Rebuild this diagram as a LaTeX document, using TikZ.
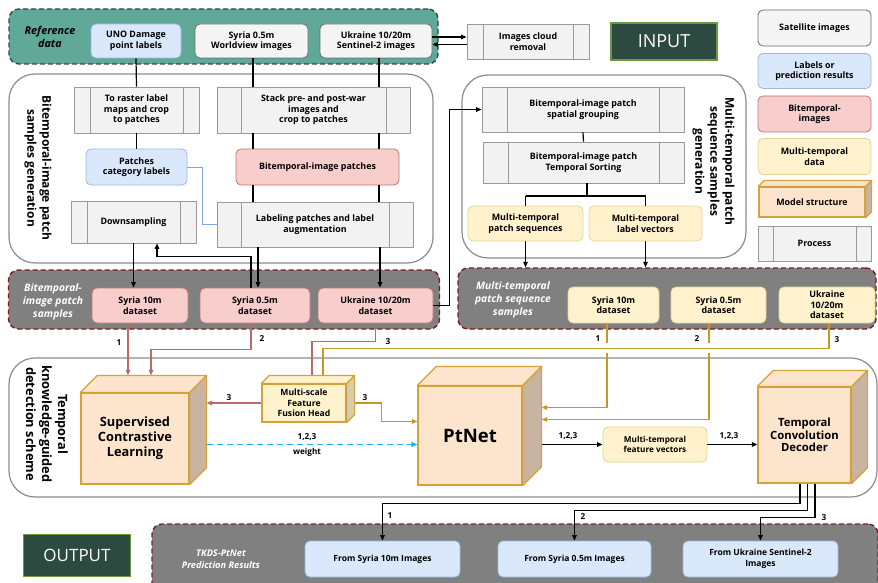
\documentclass[tikz,border=0pt]{standalone}
\usepackage{fontspec}
\setmainfont{Open Sans}
\usetikzlibrary{arrows.meta}

% palette
\definecolor{refteal}{HTML}{60A898}
\definecolor{refedge}{HTML}{2E4A42}
\definecolor{satfill}{HTML}{F5F5F5}
\definecolor{satdraw}{HTML}{6E6E6E}
\definecolor{procfill}{HTML}{F2F2F2}
\definecolor{procdraw}{HTML}{9A9A9A}
\definecolor{lblfill}{HTML}{DAE8FC}
\definecolor{lbldraw}{HTML}{9DB9E0}
\definecolor{bitfill}{HTML}{F8CECC}
\definecolor{bitdraw}{HTML}{C27673}
\definecolor{mtfill}{HTML}{FFF2CC}
\definecolor{mtdraw}{HTML}{E6D398}
\definecolor{cubefill}{HTML}{FDE4CD}
\definecolor{cubeside}{HTML}{C9B4A2}
\definecolor{cubedraw}{HTML}{D4A23A}
\definecolor{msfside}{HTML}{D6CCAE}
\definecolor{grpdraw}{HTML}{8C8C8C}
\definecolor{bandfill}{HTML}{808080}
\definecolor{banddraw}{HTML}{7B1C1C}
\definecolor{darkbox}{HTML}{2D4A40}
\definecolor{darkedge}{HTML}{6B9A3C}
\definecolor{pinkln}{HTML}{B86B6B}
\definecolor{goldln}{HTML}{C49A22}
\definecolor{bluethin}{HTML}{7EA6E0}
\definecolor{dashblue}{HTML}{1CB0EE}

\newcommand{\boxfont}{\bfseries\fontsize{8.9}{10.6}\selectfont}
\newcommand{\numfont}{\bfseries\fontsize{8.2}{9.5}\selectfont}

% front node #1, depth #2, side colour #3, top colour #4
\newcommand{\cubefaces}[4]{%
  \filldraw[cubeedge, fill=#3] (#1.north east) -- ++(#2,-#2) -- ([shift={(#2,-#2)}]#1.south east) -- (#1.south east) -- cycle;
  \filldraw[cubeedge, fill=#4] (#1.north west) -- ++(#2,-#2) -- ([shift={(#2,-#2)}]#1.north east) -- (#1.north east) -- cycle;}

\tikzset{
  wh/.style 2 args={minimum width=#1pt, minimum height=#2pt},
  basebox/.style={inner sep=0pt, align=center, font=\boxfont, line width=0.8pt, rounded corners=5pt},
  satbox/.style={basebox, fill=satfill, draw=satdraw},
  lblbox/.style={basebox, fill=lblfill, draw=lbldraw},
  bitbox/.style={basebox, fill=bitfill, draw=bitdraw},
  mtbox/.style={basebox, fill=mtfill, draw=mtdraw},
  procbox/.style={inner sep=0pt, align=center, font=\boxfont, line width=0.8pt,
    fill=procfill, draw=procdraw,
    path picture={\draw[draw=procdraw, line width=0.8pt]
      ([xshift=#1]path picture bounding box.north west) -- ([xshift=#1]path picture bounding box.south west)
      ([xshift=-#1]path picture bounding box.north east) -- ([xshift=-#1]path picture bounding box.south east);}},
  cubefront/.style={inner sep=0pt, align=center, fill=cubefill, draw=cubedraw, line width=1.2pt},
  cubeedge/.style={draw=cubedraw, line width=1.2pt, line join=round},
  grp/.style={draw=grpdraw, line width=1.2pt, rounded corners=26pt},
  grplabel/.style={inner sep=0pt, align=center, font=\bfseries\fontsize{12}{15}\selectfont, rotate=-90},
  band/.style={fill=bandfill, draw=banddraw, line width=1.4pt, dash pattern=on 5pt off 3pt, rounded corners=10pt},
  bandtxt/.style={inner sep=0pt, align=center, text=white, font=\bfseries\itshape\fontsize{10.3}{12.8}\selectfont},
  darkbox/.style={inner sep=0pt, fill=darkbox, draw=darkedge, line width=1.2pt, text=white, font=\fontsize{18}{20}\selectfont},
  num/.style={inner sep=0pt, font=\numfont},
  ln/.style={line width=1.2pt, black},
  arr/.style={ln, -{Triangle[length=5.5pt,width=4.5pt]}},
  blueln/.style={line width=0.9pt, bluethin},
  pinkline/.style={line width=1.2pt, pinkln},
  pinkarr/.style={pinkline, -{Triangle[length=5.5pt,width=4.5pt]}},
  goldline/.style={line width=1.2pt, goldln},
  goldarr/.style={goldline, -{Triangle[length=5.5pt,width=4.5pt]}},
  bluedash/.style={line width=1.3pt, dashblue, dash pattern=on 6pt off 4pt, -{Triangle[length=6pt,width=5pt]}},
}

\begin{document}
\begin{tikzpicture}[x=1pt, y=-1pt]
\useasboundingbox (0,0) rectangle (878,583);
\fill[white] (0,0) rectangle (878,583);

% ---------- process groups ----------
\node[grp, wh={424}{189}] (grpA) at (221,168.5) {};
\node[grp, wh={284}{183}] (grpC) at (604,166.5) {};
\node[grp, wh={868}{139}] (grpE) at (443,427.5) {};
\node[grplabel] (grpAlabel) at (38,168) {Bitemporal-image patch\\samples generation};
\node[grplabel] (grpClabel) at (713.5,161.5) {Multi-temporal patch\\sequence samples\\generation};
\node[grplabel, font=\bfseries\fontsize{12.8}{16}\selectfont] (grpElabel) at (47,424) {Temporal\\knowledge-guided\\detection scheme};

% ---------- data bands ----------
\node[band, fill=refteal, draw=refedge, wh={429}{55}] (bandRef) at (223.5,36.5) {};
\node[band, wh={431}{59}] (bandB) at (224,299.5) {};
\node[band, wh={418}{61}] (bandD) at (667,298.5) {};
\node[band, wh={726}{70}] (bandF) at (515,559) {};

\node[bandtxt, text=black, font=\bfseries\itshape\fontsize{10.8}{13}\selectfont] (refTitle) at (50,37) {Reference\\data};
\node[bandtxt] (bTitle) at (53,302) {Bitemporal-\\image patch\\samples};
\node[bandtxt] (dTitle) at (513,300) {Multi-temporal\\patch sequence\\samples};
\node[bandtxt, font=\bfseries\itshape\fontsize{9.2}{12.5}\selectfont] (fTitle) at (221,559) {TKDS-PtNet\\Prediction Results};

% ---------- input ----------
\node[lblbox, wh={90}{34}] (uno) at (136,41) {UNO Damage\\point labels};
\node[satbox, wh={113}{34}] (syrwv) at (251.5,41) {Syria 0.5m\\Worldview images};
\node[satbox, wh={112}{34}] (ukrs2) at (376,41) {Ukraine 10/20m\\Sentinel-2 images};
\node[procbox=16pt, wh={122}{35}] (cloud) at (528,41.5) {Images cloud\\removal};
\node[darkbox, wh={106}{37}] (input) at (664,41.5) {INPUT};

% ---------- bitemporal patch generation ----------
\node[procbox=16pt, wh={125}{46}] (raster) at (136.5,110) {To raster label\\maps and crop\\to patches};
\node[procbox=24pt, wh={193}{46}] (stack) at (313.5,110) {Stack pre- and post-war\\images and\\crop to patches};
\node[lblbox, wh={101}{36}] (pcl) at (136.5,167) {Patches\\category labels};
\node[bitbox, wh={163}{36}] (bip) at (317.5,167) {Bitemporal-image patches};
\node[procbox=16pt, wh={125}{42}] (down) at (133.5,222) {Downsampling};
\node[procbox=24pt, wh={196}{45}] (label) at (315,224.5) {Labeling patches and label\\augmentation};

\node[bitbox, wh={96}{35}] (s10) at (140,305.5) {Syria 10m\\dataset};
\node[bitbox, wh={110}{35}] (s05) at (255,305.5) {Syria 0.5m\\dataset};
\node[bitbox, wh={115}{35}] (u1020) at (375.5,305.5) {Ukraine 10/20m\\dataset};

% ---------- multi-temporal sequence generation ----------
\node[procbox=25pt, wh={202}{45}] (spatial) at (583,109.5) {Bitemporal-image patch\\spatial grouping};
\node[procbox=25pt, wh={201}{41}] (sorting) at (583.5,162.5) {Bitemporal-image patch\\Temporal Sorting};
\node[mtbox, wh={115}{35}] (mts) at (525.5,223.5) {Multi-temporal\\patch sequences};
\node[mtbox, wh={113}{35}] (mtl) at (645.5,223.5) {Multi-temporal\\label vectors};

\node[mtbox, wh={91}{36}] (ys10) at (613.5,305) {Syria 10m\\dataset};
\node[mtbox, wh={95}{36}] (ys05) at (718.5,305) {Syria 0.5m\\dataset};
\node[mtbox, wh={96}{36}] (yu) at (827,305) {Ukraine\\10/20m\\dataset};

% ---------- legend ----------
\node[satbox, wh={113}{36}] (lgSat) at (814.5,28) {Satellite images};
\node[lblbox, wh={113}{35}] (lgLab) at (814.5,71) {Labels or\\prediction results};
\node[bitbox, wh={113}{36}] (lgBit) at (814.5,114) {Bitemporal-\\images};
\node[mtbox, wh={113}{36}] (lgMt) at (814.5,156.5) {Multi-temporal\\data};
\node[cubefront, font=\boxfont, wh={106}{30}] (lgModel) at (812,202) {Model structure};
\cubefaces{lgModel}{6}{cubeside}{cubefill}
\node[procbox=15pt, wh={113}{35}] (lgProc) at (814.5,243.5) {Process};

% ---------- detection scheme ----------
\node[cubefront, font=\bfseries\fontsize{12.8}{15}\selectfont, wh={108}{91}] (scl) at (135,438.5) {Supervised\\Contrastive\\Learning};
\cubefaces{scl}{17}{cubeside}{cubefill}
\node[cubefront, fill=mtfill, font=\bfseries\fontsize{8.6}{10.5}\selectfont, wh={84}{38}] (msf) at (304,403) {Multi-scale\\Feature\\Fusion Head};
\cubefaces{msf}{8}{msfside}{mtfill}
\node[cubefront, font=\bfseries\fontsize{18.5}{20}\selectfont, wh={104}{99}] (ptnet) at (470,435.5) {PtNet};
\cubefaces{ptnet}{19}{cubeside}{cubefill}
\node[mtbox, font=\bfseries\fontsize{8.2}{10}\selectfont, wh={104}{35}] (fv) at (655,444.5) {Multi-temporal\\feature vectors};
\node[cubefront, font=\bfseries\fontsize{11.3}{12.5}\selectfont, wh={93}{96}] (tcd) at (804.5,435) {Temporal\\Convolution\\Decoder};
\cubefaces{tcd}{16}{cubeside}{cubefill}

% ---------- output ----------
\node[darkbox, font=\fontsize{17}{20}\selectfont, wh={107}{42}] (output) at (77,555.5) {OUTPUT};
\node[lblbox, font=\bfseries\fontsize{8.5}{10.5}\selectfont, wh={155}{36}] (o1) at (382.5,559) {From Syria 10m Images};
\node[lblbox, font=\bfseries\fontsize{8.5}{10.5}\selectfont, wh={153}{36}] (o2) at (574.5,559) {From Syria 0.5m Images};
\node[lblbox, font=\bfseries\fontsize{8.5}{10.5}\selectfont, wh={155}{36}] (o3) at (760.5,559) {From Ukraine Sentinel-2\\Images};

% ---------- connectors: bitemporal branch ----------
\coordinate (xa) at (253,0);
\coordinate (xb) at (379,0);
\coordinate (xc) at (258,0);
\coordinate (xd) at (380,0);
\coordinate (xe) at (251,0);
\coordinate (xf) at (157,0);
\draw[ln] (uno.south) -- (raster.north);
\draw[ln] (raster.south) -- (pcl.north);
\draw[ln] (syrwv.south -| xa) -- (stack.north -| xa);
\draw[ln] (ukrs2.south -| xb) -- (stack.north -| xb);
\draw[ln] (stack.south -| xa) -- (bip.north -| xa);
\draw[ln] (stack.south -| xb) -- (bip.north -| xb);
\draw[ln] (bip.south -| xa) -- (label.north -| xa);
\draw[ln] (bip.south -| xb) -- (label.north -| xb);
\draw[blueln] (pcl.east) -- ++(15,0) |- (label.west);
\draw[arr] (label.south -| xc) -- (s05.north -| xc);
\draw[arr] (label.south -| xd) -- (u1020.north -| xd);
\draw[arr] (down.south) -- (s10.north -| down.south);
\draw[arr] (s05.north -| xe) -- ++(0,-31) -| (down.south -| xf);
\draw[arr] ([yshift=4pt]ukrs2.east) -- ([yshift=4pt]ukrs2.east -| cloud.west);
\draw[arr] ([yshift=-3pt]cloud.west) -- ([yshift=-3pt]cloud.west -| ukrs2.east);

% ---------- connectors: multi-temporal branch ----------
\draw[arr] (u1020.east) -- ++(16,0) |- (spatial.west);
\draw[ln] (spatial.south) -- (sorting.north);
\coordinate (split) at (587,196);
\draw[ln] (sorting.south -| split) -- (split);
\draw[ln] (split -| mts.north) -- (split -| mtl.north);
\draw[ln] (split -| mts.north) -- (mts.north);
\draw[ln] (split -| mtl.north) -- (mtl.north);
\draw[arr] (mts.south) -- (mts.south |- bandD.north);
\draw[arr] (mtl.south) -- (mtl.south |- bandD.north);

% ---------- connectors: detection scheme ----------
\coordinate (scltop) at ([yshift=17pt]scl.north);
\coordinate (sclside) at ([xshift=17pt]scl.east);
\coordinate (msftop) at ([yshift=8pt]msf.north);
\coordinate (msfside) at ([xshift=8pt]msf.east);
\coordinate (ptside) at ([xshift=19pt]ptnet.east);
\coordinate (xg) at (151,0);
\coordinate (xh) at (312,0);
\coordinate (xi) at (323,0);
\coordinate (j1) at (607,348);
\coordinate (j2) at (709,348);

\draw[pinkarr] ([xshift=-12pt]s10.south) -- ([xshift=-12pt]s10.south |- scltop);
\draw[pinkarr] ([xshift=-4pt]s05.south) -- ++(0,26) -| (scltop -| xg);
\draw[pinkline] (u1020.south) -- ++(0,18) -| (msftop -| xh);
\draw[goldline] ([xshift=2pt]yu.south) -- ++(0,25) -| (msftop -| xi);
\draw[goldline] (ys10.south -| j1) -- ([yshift=5pt]j1);
\draw[goldarr] ([yshift=-5pt]j1) |- ([yshift=28pt]ptside);
\draw[goldline] (ys05.south -| j2) -- ([yshift=5pt]j2);
\draw[goldarr] ([yshift=-5pt]j2) |- ([yshift=16pt]ptside);
\draw[pinkarr] (msf.west) -- (msf.west -| sclside);
\draw[goldarr] (msfside) -- ++(27,0) |- ([yshift=14pt]ptnet.west);
\draw[bluedash] (sclside |- fv.west) -- (ptnet.west |- fv.west);
\draw[arr] (ptside |- fv.west) -- (fv.west);
\draw[arr] (fv.east) -- (fv.east -| tcd.west);

\draw[arr] ([xshift=-4.5pt]tcd.south) -- ++(0,20) -| (o1.north);
\draw[arr] ([xshift=3pt]tcd.south) -- ++(0,27) -| (o2.north);
\draw[arr] ([xshift=10.5pt]tcd.south) -- ++(0,34) -| (o3.north);

% ---------- connector labels ----------
\node[num] (lp1) at (119,343) {1};
\node[num] (lp2) at (262,339) {2};
\node[num] (lp3) at (388,342) {3};
\node[num] (lg1) at (598,339) {1};
\node[num] (lg2) at (697,339) {2};
\node[num] (lg3) at (837,340) {3};
\node[num] (lm3a) at (229,398) {3};
\node[num] (lm3b) at (365,398) {3};
\node[num] (lw1) at (307,437) {1,2,3};
\node[num] (lw2) at (307,452) {weight};
\node[num] (lf1) at (568,436) {1,2,3};
\node[num] (lf2) at (729,436) {1,2,3};
\node[num] (lo1) at (390,516) {1};
\node[num] (lo2) at (583,517) {2};
\node[num] (lo3) at (824,518) {3};
\end{tikzpicture}
\end{document}
